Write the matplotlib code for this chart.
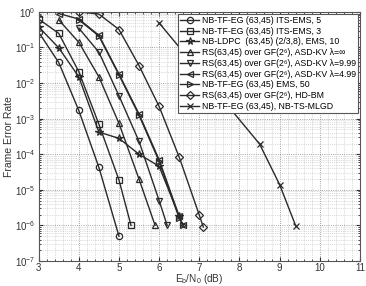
import numpy as np
import matplotlib
matplotlib.use('Agg')
import matplotlib.pyplot as plt
from matplotlib.ticker import LogLocator, MultipleLocator, NullFormatter

plt.rcParams['font.family'] = ['Liberation Sans', 'DejaVu Sans']
plt.rcParams['mathtext.fontset'] = 'custom'
plt.rcParams['mathtext.rm'] = 'Liberation Sans'
plt.rcParams['mathtext.it'] = 'Liberation Sans'

# Eb/N0 (dB) and frame error rate per curve
x_its5 = [3.0, 3.5, 4.0, 4.5, 5.0]
fer_its5 = [0.27, 0.038, 1.7e-3, 4.3e-5, 5e-7]

x_its3 = [3.0, 3.5, 4.0, 4.5, 5.0, 5.3]
fer_its3 = [0.63, 0.25, 0.021, 7e-4, 1.9e-5, 1e-6]

x_ldpc = [3.0, 3.5, 4.0, 4.5, 5.0, 5.5, 6.0, 6.5]
fer_ldpc = [0.38, 0.098, 0.015, 4.2e-4, 2.8e-4, 1.0e-4, 4.6e-5, 1.8e-6]

x_kv_inf = [3.5, 4.0, 4.5, 5.0, 5.5, 5.9]
fer_kv_inf = [0.6, 0.14, 0.015, 7.4e-4, 2.0e-5, 1e-6]

x_kv_999 = [4.0, 4.5, 5.0, 5.5, 6.0, 6.2]
fer_kv_999 = [0.35, 0.074, 4.4e-3, 2.3e-4, 5e-6, 1e-6]

x_kv_499 = [3.5, 4.0, 4.5, 5.0, 5.5, 6.0, 6.5, 6.6]
fer_kv_499 = [0.9, 0.63, 0.22, 0.018, 1.35e-3, 7e-5, 1.8e-6, 1e-6]

x_ems50 = [4.0, 4.5, 5.0, 5.5, 6.0, 6.5, 6.6]
fer_ems50 = [0.6, 0.21, 0.017, 1.25e-3, 6.3e-5, 1.6e-6, 1e-6]

x_hdbm = [4.0, 4.5, 5.0, 5.5, 6.0, 6.5, 7.0, 7.1]
fer_hdbm = [1.0, 0.87, 0.32, 0.031, 2.2e-3, 8.3e-5, 1.95e-6, 9e-7]

x_mlgd = [6.0, 8.5, 9.0, 9.4]
fer_mlgd = [0.49, 1.95e-4, 1.4e-5, 9.8e-7]

x_ticks = [3, 4, 5, 6, 7, 8, 9, 10, 11]
y_ticks = [1e-7, 1e-6, 1e-5, 1e-4, 1e-3, 1e-2, 1e-1, 1e0]

labels = [
    'NB-TF-EG (63,45) ITS-EMS, 5',
    'NB-TF-EG (63,45) ITS-EMS, 3',
    'NB-LDPC  (63,45) (2/3,8), EMS, 10',
    'RS(63,45) over GF(2\u2076), ASD-KV \u03bb=\u221e',
    'RS(63,45) over GF(2\u2076), ASD-KV \u03bb=9.99',
    'RS(63,45) over GF(2\u2076), ASD-KV \u03bb=4.99',
    'NB-TF-EG (63,45) EMS, 50',
    'RS(63,45) over GF(2\u2076), HD-BM',
    'NB-TF-EG (63,45), NB-TS-MLGD',
]
series = [
    (x_its5, fer_its5, 'o'),
    (x_its3, fer_its3, 's'),
    (x_ldpc, fer_ldpc, '*'),
    (x_kv_inf, fer_kv_inf, '^'),
    (x_kv_999, fer_kv_999, 'v'),
    (x_kv_499, fer_kv_499, '<'),
    (x_ems50, fer_ems50, '>'),
    (x_hdbm, fer_hdbm, 'D'),
    (x_mlgd, fer_mlgd, 'x'),
]

fig = plt.figure(figsize=(3.66, 2.86), dpi=100)
ax = fig.add_axes([0.1055, 0.0874, 0.878, 0.871])

col = '#2a2a2a'
for (xs, ys, m), lab in zip(series, labels):
    ms = 4.5
    if m == 'D':
        ms = 3.8
    elif m == '*':
        ms = 5.5
    ax.semilogy(xs, ys, color=col, lw=1.0, marker=m, ms=ms,
                mfc='none', mec=col, mew=0.9, label=lab)

ax.set_xlim(3, 11)
ax.set_ylim(1e-7, 1)
ax.set_xticks(x_ticks)
ax.set_yticks(y_ticks)
ax.xaxis.set_minor_locator(MultipleLocator(0.2))
ax.yaxis.set_minor_locator(LogLocator(base=10, subs=np.arange(2, 10), numticks=10))
ax.yaxis.set_minor_formatter(NullFormatter())
ax.grid(True, which='major', ls=':', lw=0.6, color='#888888')
ax.grid(True, which='minor', ls=':', lw=0.5, color='#bbbbbb')
ax.tick_params(which='both', direction='in', labelsize=7, colors='#333333',
               top=True, right=True, length=3, pad=2)
ax.tick_params(axis='x', pad=1.5)
ax.tick_params(which='minor', length=1.5)
for s in ax.spines.values():
    s.set_color('#555555')
    s.set_linewidth(0.8)

ax.set_xlabel(r'E$_b$/N$_0$ (dB)', fontsize=7.2, labelpad=-0.5, color='#333333')
ax.set_ylabel('Frame Error Rate', fontsize=7.5, labelpad=1, color='#333333')

leg = ax.legend(loc='upper right', fontsize=6.3, frameon=True, fancybox=False,
                edgecolor='#555555', framealpha=1, handlelength=2.2,
                handletextpad=0.3, labelspacing=0.2, borderpad=0.25,
                borderaxespad=0.2)
leg.get_frame().set_linewidth(0.8)

fig.savefig('out.png', dpi=100)
